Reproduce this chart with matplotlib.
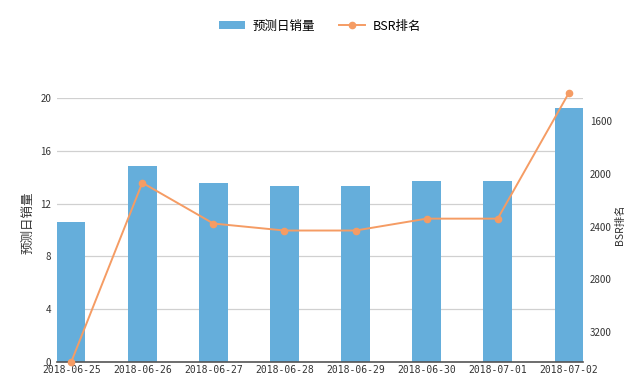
import matplotlib.pyplot as plt
import numpy as np

plt.rcParams['font.family'] = ['Noto Sans CJK SC', 'DejaVu Sans']

dates = ['2018-06-25', '2018-06-26', '2018-06-27', '2018-06-28',
         '2018-06-29', '2018-06-30', '2018-07-01', '2018-07-02']
sales = [10.6, 14.85, 13.55, 13.3, 13.3, 13.7, 13.7, 19.25]
bsr = [3426, 2068, 2377, 2430, 2430, 2340, 2340, 1389]

bar_color = '#65aedb'
line_color = '#f59c64'

fig = plt.figure(figsize=(6.4, 3.9), dpi=100)
ax = fig.add_axes([57 / 640, 28 / 390, 526 / 640, 264 / 390])
x = np.arange(len(dates))

bars = ax.bar(x, sales, width=0.4, color=bar_color, zorder=2, label='预测日销量')
ax.set_xlim(-0.2, 7.2)
ax.set_ylim(0, 20)
ax.set_yticks([0, 4, 8, 12, 16, 20])
ax.grid(axis='y', color='#d0d0d0', linewidth=0.9, zorder=0)
ax.set_xticks(x)
ax.set_xticklabels(dates, family='DejaVu Sans Mono', fontsize=5.8, color='#333333')
ax.tick_params(axis='both', length=0, labelsize=7, colors='#333333', pad=4)
ax.tick_params(axis='x', pad=2)
for s in ['top', 'right', 'left']:
    ax.spines[s].set_visible(False)
ax.spines['bottom'].set_color('#555555')
ax.spines['bottom'].set_linewidth(1.2)
ax.spines['bottom'].set_zorder(3)
ax.set_ylabel('预测日销量', fontsize=9, color='#333333')
ax.yaxis.set_label_coords(-0.042, 0.527)

ax2 = ax.twinx()
line, = ax2.plot(x, bsr, color=line_color, marker='o', markersize=4.5,
                 linewidth=1.4, clip_on=False, zorder=4, label='BSR排名')
ax2.set_ylim(3426, 1426)
ax2.set_yticks([1600, 2000, 2400, 2800, 3200])
ax2.tick_params(axis='y', length=0, labelsize=7, colors='#333333', pad=5)
for s in ax2.spines.values():
    s.set_visible(False)
ax2.set_ylabel('BSR排名', fontsize=7.5, color='#333333', rotation=90)
ax2.yaxis.set_label_coords(1.060, 0.519)

fig.legend([bars, line], ['预测日销量', 'BSR排名'], loc='center',
           bbox_to_anchor=(0.5, 364 / 390), ncol=2, frameon=False,
           fontsize=9, handlelength=2.1, handleheight=0.6,
           columnspacing=1.85, handletextpad=0.65)

fig.savefig('out.png', dpi=100)
